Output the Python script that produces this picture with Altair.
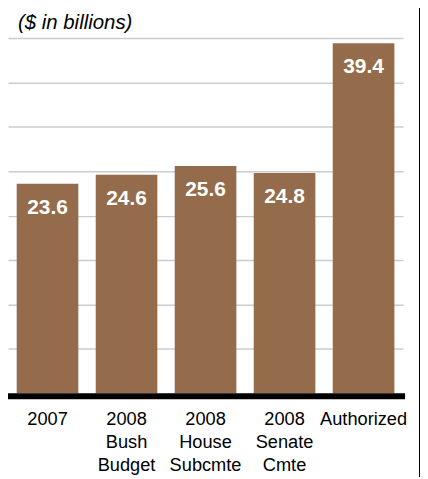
import altair as alt
import pandas as pd

categories = ["2007", "2008 Bush Budget", "2008 House Subcmte", "2008 Senate Cmte", "Authorized"]
values = [23.6, 24.6, 25.6, 24.8, 39.4]
value_labels = ["23.6", "24.6", "25.6", "24.8", "39.4"]
title_text = "($ in billions)"

df = pd.DataFrame({"cat": categories, "val": values, "lbl": value_labels})

FONT = "Liberation Sans"
BAR = "#956c4b"

x = alt.X("cat:N", sort=categories, title=None,
          scale=alt.Scale(paddingInner=0.22, paddingOuter=0.11),
          axis=alt.Axis(labelAngle=0, labelExpr="split(datum.label, ' ')",
                        labelFont=FONT, labelFontSize=18.3, labelColor="black",
                        labelLineHeight=23.5, labelPadding=17, ticks=False,
                        domain=False, labelBaseline="top"))
y = alt.Y("val:Q", title=None,
          scale=alt.Scale(domain=[0, 40], nice=False),
          axis=alt.Axis(values=[5, 10, 15, 20, 25, 30, 35, 40], labels=False, ticks=False,
                        domain=False, grid=True, gridColor="#cccccc", gridWidth=1.5))

bars = alt.Chart(df).mark_bar(color=BAR).encode(x=x, y=y)

text = alt.Chart(df).mark_text(color="white", font=FONT, fontSize=21, fontWeight="bold",
                               baseline="alphabetic", align="center", dy=30).encode(
    x=alt.X("cat:N", sort=categories), y="val:Q", text="lbl:N")

base_rule = alt.Chart(pd.DataFrame({"v": [0]})).mark_rule(
    color="black", strokeWidth=6, yOffset=3).encode(
    y="v:Q", x=alt.value(-2), x2=alt.value(399))

border = alt.Chart(pd.DataFrame({"v": [0]})).mark_rule(
    color="black", strokeWidth=2).encode(
    x=alt.value(414), y=alt.value(-40), y2=alt.value(480))

title = alt.Chart(pd.DataFrame({"t": [title_text]})).mark_text(
    font=FONT, fontSize=20.5, fontStyle="italic", color="black",
    align="left", baseline="alphabetic").encode(
    x=alt.value(10), y=alt.value(-9), text="t:N")

chart = alt.layer(bars, text, base_rule, border, title).properties(
    width=397, height=357,
    autosize=alt.AutoSizeParams(type="none"),
    padding={"left": 0, "top": 29, "right": 17, "bottom": 83},
).configure_view(stroke=None).configure_axis(gridDash=[])

chart.save("out.html", embed_options={"renderer": "svg", "actions": False})
